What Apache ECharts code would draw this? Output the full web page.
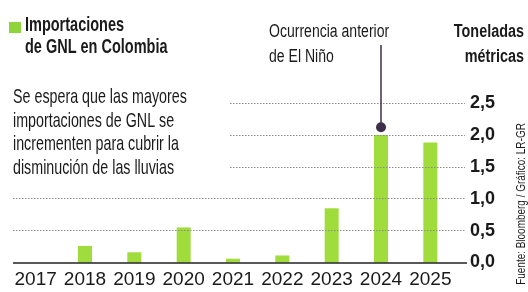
<!DOCTYPE html>
<html>
<head>
<meta charset="utf-8">
<script src="https://cdn.jsdelivr.net/npm/echarts@6/dist/echarts.min.js"></script>
<style>
  html, body { margin: 0; padding: 0; background: #fff; }
  #chart { width: 528px; height: 292px; }
</style>
</head>
<body>
<div id="chart"></div>
<script>
const years = ['2017', '2018', '2019', '2020', '2021', '2022', '2023', '2024', '2025'];
const imports = [0, 0.26, 0.16, 0.55, 0.06, 0.11, 0.85, 2.0, 1.88];
const fullLines = [0.5, 1.0];
const shortLines = [1.5, 2.0, 2.5];
const ninoYear = '2024';

const FONT = '"Liberation Sans", Arial, sans-serif';
const GREEN = '#9fdc3c';
const INK = '#1a1a1a';

const dotted = {color: '#8a8a8a', type: [1.5, 1.5], width: 1};

const gridData = [];
fullLines.forEach(v => gridData.push([{yAxis: v, x: 13}, {yAxis: v, x: 465}]));
shortLines.forEach(v => gridData.push([{yAxis: v, x: 230}, {yAxis: v, x: 465}]));
gridData.push([
  {yAxis: 0, x: 13, lineStyle: {color: '#222', type: 'solid', width: 1.5}},
  {yAxis: 0, x: 467}
]);

// condensed look: plain font squeezed horizontally
function label(x, y, text, font, sx, lh, align) {
  return {
    type: 'text', x: x, y: y, scaleX: sx,
    style: {text: text, font: font, fill: INK, lineHeight: lh, align: align || 'left', verticalAlign: 'top'}
  };
}

const chart = echarts.init(document.getElementById('chart'));

chart.setOption({
  animation: false,
  backgroundColor: '#fff',
  textStyle: {fontFamily: FONT},
  grid: {left: 11, right: 73, top: 103, bottom: 29.5},
  xAxis: {
    type: 'category',
    data: years,
    axisLine: {show: false},
    axisTick: {show: false},
    axisLabel: {color: INK, fontSize: 19, fontFamily: FONT, margin: 8, interval: 0, hideOverlap: false}
  },
  yAxis: {
    type: 'value',
    position: 'right',
    min: 0,
    max: 2.5,
    interval: 0.5,
    splitLine: {show: false},
    axisLine: {show: false},
    axisTick: {show: false},
    axisLabel: {
      color: INK, fontSize: 18, fontFamily: FONT, fontWeight: 'bold', margin: 15,
      formatter: v => v.toFixed(1).replace('.', ',')
    }
  },
  graphic: [
    {type: 'rect', x: 9, y: 22, shape: {width: 12, height: 11}, style: {fill: '#8fd43a'}},
    label(25, 14, 'Importaciones\nde GNL en Colombia', 'bold 21px ' + FONT, 0.69, 22),
    label(13, 86, 'Se espera que las mayores\nimportaciones de GNL se\nincrementen para cubrir la\ndisminución de las lluvias',
      '21px ' + FONT, 0.68, 23.4),
    label(269, 20, 'Ocurrencia anterior\nde El Niño', '18px ' + FONT, 0.78, 25),
    label(524, 20, 'Toneladas\nmétricas', 'bold 18px ' + FONT, 0.8, 25, 'right'),
    {type: 'text', x: 522, y: 204, rotation: Math.PI / 2, scaleX: 0.83, style: {
      text: 'Fuente: Bloomberg / Gráfico: LR-GR', font: '12px ' + FONT, fill: INK,
      align: 'center', verticalAlign: 'middle'
    }}
  ],
  series: [
    {
      type: 'bar',
      data: imports,
      barWidth: 14,
      itemStyle: {color: GREEN},
      markLine: {
        silent: true,
        symbol: ['none', 'none'],
        label: {show: false},
        lineStyle: dotted,
        data: gridData
      },
      z: 3
    },
    {
      type: 'line',
      data: [],
      markLine: {
        silent: true,
        symbol: ['circle', 'none'],
        symbolSize: 10,
        label: {show: false},
        lineStyle: {color: '#3d2f4a', type: 'solid', width: 1.5},
        data: [[
          {coord: [ninoYear, 2.12], itemStyle: {color: '#000'}},
          {coord: [ninoYear, 2.12], y: 45}
        ]]
      },
      z: 5
    }
  ]
});
</script>
</body>
</html>
